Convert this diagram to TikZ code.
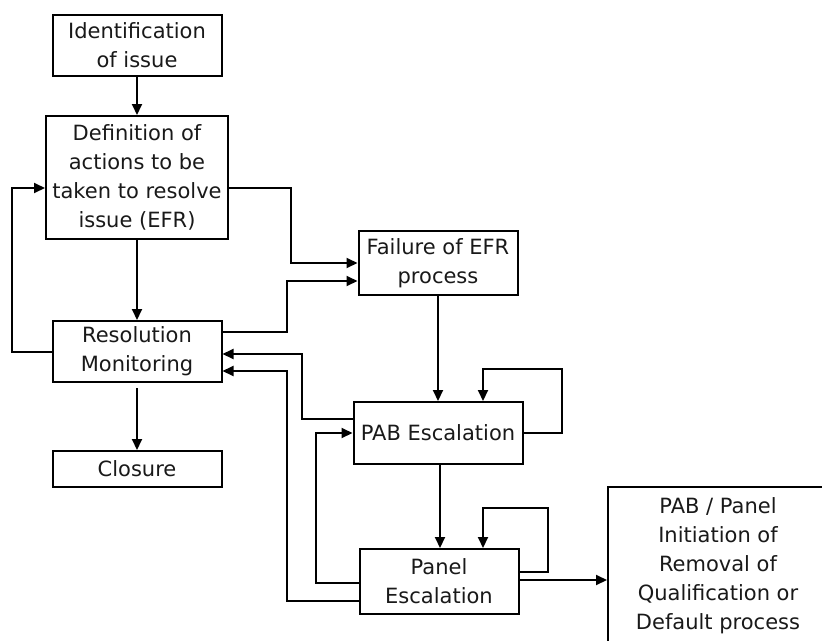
\documentclass[tikz,border=0pt]{standalone}
\usepackage{fontspec}
\setmainfont{DejaVu Sans}
\usetikzlibrary{positioning,calc,arrows.meta}

\begin{document}
\begin{tikzpicture}[x=1pt,y=-1pt,
    box/.style={draw,line width=2pt,align=center,inner sep=0pt,
        font=\fontsize{21}{29}\selectfont,text=black!90},
    flow/.style={draw,line width=2pt,-{Triangle[length=11pt,width=10pt]}}]
    \useasboundingbox (0,0) rectangle (822,640);
    \node (Ident) [box,minimum width=169pt,minimum height=61pt] at (137,45.5) {Identification\\of issue};
    \node (Def) [box,minimum width=182pt,minimum height=123pt] at (137,177.5) {Definition of\\actions to be\\taken to resolve\\issue (EFR)};
    \node (Res) [box,minimum width=169pt,minimum height=61pt] at (137,351.5) {Resolution\\Monitoring};
    \node (Clo) [box,minimum width=169pt,minimum height=36pt] at (137,469) {Closure};
    \node (Fail) [box,minimum width=159pt,minimum height=64pt] at (438,263) {Failure of EFR\\process};
    \node (PAB) [box,minimum width=169pt,minimum height=62pt] at (438,433) {PAB Escalation};
    \node (Pan) [box,minimum width=159pt,minimum height=65pt] at (439,581.5) {Panel\\Escalation};
    \node (Rem) [box,minimum width=220pt,minimum height=158pt] at (718,566) {PAB / Panel\\Initiation of\\Removal of\\Qualification or\\Default process};
    % main line
    \draw[flow] (Ident) -- (Def);
    \draw[flow] (Def) -- (Res);
    \draw[flow,shorten <=5pt] (Res) -- (Clo);
    \draw[flow] (Fail.south) -- (Fail.south |- PAB.north);
    \draw[flow] ([xshift=2pt]PAB.south) -- ([xshift=2pt]PAB.south |- Pan.north);
    \draw[flow] ([yshift=1.5pt]Pan.east) -- ([yshift=1.5pt]Pan.east -| Rem.west);
    % into failure
    \draw[flow] ([yshift=-10.5pt]Def.east) -- ++(62,0) |- (Fail.west);
    \draw[flow] ([yshift=19.5pt]Res.east) -- ++(64,0) |- ([yshift=-18pt]Fail.west);
    % back loops
    \draw[flow] (Res.west) -- ++(-40,0) |- ([yshift=-10.5pt]Def.west);
    \draw[flow] ([yshift=14pt]PAB.west) -- ++(-51,0) |- ([yshift=-2.5pt]Res.east);
    \draw[flow] ([yshift=-19.5pt]Pan.west) -- ++(-72,0) |- ([yshift=-19.5pt]Res.east);
    \draw[flow] ([yshift=-1.5pt]Pan.west) -- ++(-43,0) |- (PAB.west);
    % self loops
    \draw[flow] (PAB.east) -- ++(38,0) |- ([xshift=45pt,yshift=32pt]PAB.north) -- ([xshift=45pt]PAB.north);
    \draw[flow] ([yshift=9.5pt]Pan.east) -- ++(28,0) |- ([xshift=44pt,yshift=40pt]Pan.north) -- ([xshift=44pt]Pan.north);
\end{tikzpicture}
\end{document}
